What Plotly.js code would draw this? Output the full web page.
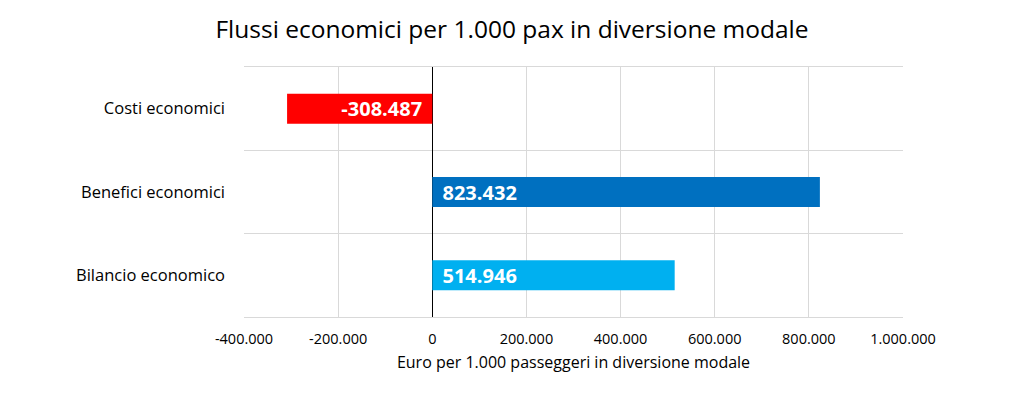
<!DOCTYPE html>
<html>
<head>
<meta charset="utf-8">
<script src="https://cdn.plot.ly/plotly-3.0.1.min.js"></script>
<style>html,body{margin:0;padding:0;background:#fff;}#chart{width:1024px;height:394px;}</style>
</head>
<body>
<div id="chart"></div>
<script>
const categories = ["Costi economici", "Benefici economici", "Bilancio economico"];
const values = [-308487, 823432, 514946];
const barColors = ["#FF0000", "#0070C0", "#00B0F0"];
const xTickVals = [-400000, -200000, 0, 200000, 400000, 600000, 800000, 1000000];
const xTickText = ["-400.000", "-200.000", "0", "200.000", "400.000", "600.000", "800.000", "1.000.000"];
const chartTitle = "Flussi economici per 1.000 pax in diversione modale";
const xTitle = "Euro per 1.000 passeggeri in diversione modale";

const font = "'Open Sans', sans-serif";
const gap = "\u00a0\u200a";

const trace = {
  type: "bar",
  orientation: "h",
  y: categories,
  x: values,
  width: 0.36,
  marker: {color: barColors},
  texttemplate: values.map(v => v < 0 ? "%{x:,.0f}" + gap : gap + "%{x:,.0f}"),
  textposition: "inside",
  insidetextanchor: "start",
  textangle: 0,
  constraintext: "none",
  insidetextfont: {family: font, size: 20, color: "#ffffff", weight: "bold"},
  hoverinfo: "skip",
  showlegend: false
};

// invisible helper trace on a numeric overlay axis to draw grid lines between categories
const helper = {
  type: "scatter",
  mode: "markers",
  x: [values[0]],
  y: [0],
  yaxis: "y2",
  marker: {opacity: 0},
  hoverinfo: "skip",
  showlegend: false
};

const layout = {
  width: 1024,
  height: 394,
  margin: {l: 244, r: 121, t: 67, b: 77},
  paper_bgcolor: "#ffffff",
  plot_bgcolor: "#ffffff",
  separators: ",.",
  title: {
    text: chartTitle,
    font: {family: font, size: 24.5, color: "#000000"},
    x: 0.5, xanchor: "center", y: 0.925, yanchor: "middle"
  },
  xaxis: {
    range: [-400000, 1000000],
    tickvals: xTickVals,
    ticktext: xTickText,
    showgrid: true,
    gridcolor: "#d9d9d9",
    gridwidth: 1,
    zeroline: true,
    zerolinecolor: "#000000",
    zerolinewidth: 1,
    showline: true,
    linecolor: "#d9d9d9",
    mirror: true,
    ticks: "",
    ticklabelstandoff: 9,
    tickfont: {family: font, size: 14.5, color: "#000000"},
    title: {text: xTitle, font: {family: font, size: 16, color: "#000000"}, standoff: 9},
    fixedrange: true
  },
  yaxis: {
    type: "category",
    autorange: "reversed",
    showgrid: false,
    ticks: "",
    ticklabelstandoff: 18,
    tickfont: {family: font, size: 16.5, color: "#000000"},
    fixedrange: true
  },
  yaxis2: {
    overlaying: "y",
    range: [2.5, -0.5],
    tickvals: [-0.5, 0.5, 1.5, 2.5],
    showticklabels: false,
    showgrid: true,
    gridcolor: "#d9d9d9",
    gridwidth: 1,
    zeroline: false,
    ticks: "",
    fixedrange: true
  },
  bargap: 0.64
};

Plotly.newPlot("chart", [trace, helper], layout, {displayModeBar: false, staticPlot: true});
</script>
</body>
</html>
